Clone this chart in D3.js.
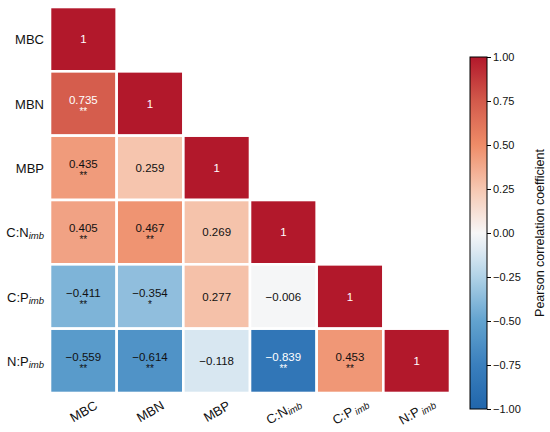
<!DOCTYPE html>
<html><head><meta charset="utf-8">
<script src="https://cdn.jsdelivr.net/npm/d3@7"></script>
<style>body{margin:0;background:#fff}svg{display:block;font-family:"Liberation Sans",Arial,sans-serif}</style>
</head><body><svg id="c" width="550" height="432"></svg>
<script>
const labelBase = ["MBC","MBN","MBP","C:N","C:P","N:P"];
const labelSub  = ["","","","imb","imb","imb"];
const values = [
  [1],
  [0.735, 1],
  [0.435, 0.259, 1],
  [0.405, 0.467, 0.269, 1],
  [-0.411, -0.354, 0.277, -0.006, 1],
  [-0.559, -0.614, -0.118, -0.839, 0.453, 1]
];
const stars = [
  [""],
  ["**", ""],
  ["**", "", ""],
  ["**", "**", "", ""],
  ["**", "*", "", "", ""],
  ["**", "**", "", "**", "**", ""]
];
const cbTicks = [1, 0.75, 0.5, 0.25, 0, -0.25, -0.5, -0.75, -1];
const cmapStops = [1, 0.75, 0.5, 0.25, 0, -0.125, -0.25, -0.5, -0.75, -1];
const cmapColors = ["#b2182b","#d35a4b","#ee8c68","#f6c7b1","#f7f7f7","#d6e6f1","#b0d2e7","#62a3cf","#3a7fbd","#2166ac"];
const cbTitle = "Pearson correlation coefficient";

const svg = d3.select("#c");
const color = d3.scaleLinear().domain(cmapStops).range(cmapColors).interpolate(d3.interpolateRgb);
const idx = d3.range(labelBase.length);
const x = d3.scaleBand().domain(idx).range([50, 450]);
const y = d3.scaleBand().domain(idx).range([7, 393]);

const cells = [];
values.forEach((row, i) => row.forEach((v, j) => cells.push({i, j, v, s: stars[i][j]})));

const fmt = v => v === 1 ? "1" : d3.format(".3f")(v);
const g = svg.append("g");
const cg = g.selectAll("g.cell").data(cells).join("g").attr("class","cell");
cg.append("rect")
  .attr("x", d => x(d.j)).attr("y", d => y(d.i))
  .attr("width", x.bandwidth()).attr("height", y.bandwidth())
  .attr("fill", d => color(d.v)).attr("stroke", "#fff").attr("stroke-width", 2.6);
cg.append("text")
  .attr("x", d => x(d.j) + x.bandwidth()/2)
  .attr("y", d => y(d.i) + y.bandwidth()/2 + (d.s ? -4 : 0))
  .attr("text-anchor","middle").attr("dominant-baseline","central")
  .attr("font-size", 11.5)
  .attr("fill", d => Math.abs(d.v) >= 0.7 ? "#fff" : "#111")
  .text(d => fmt(d.v));
cg.filter(d => d.s).append("text")
  .attr("x", d => x(d.j) + x.bandwidth()/2)
  .attr("y", d => y(d.i) + y.bandwidth()/2 + 11)
  .attr("text-anchor","middle")
  .attr("font-size", 10)
  .attr("fill", d => Math.abs(d.v) >= 0.7 ? "#fff" : "#111")
  .text(d => d.s);

// row labels
const rl = svg.append("g").selectAll("text").data(idx).join("text")
  .attr("x", 44).attr("y", i => y(i) + y.bandwidth()/2)
  .attr("text-anchor","end").attr("dominant-baseline","central")
  .attr("font-size", 13).attr("fill","#111");
rl.append("tspan").text(i => labelBase[i]);
rl.filter(i => labelSub[i]).append("tspan").attr("font-size", 9.5).attr("font-style","italic")
  .attr("dy", 3).text(i => labelSub[i]);

// column labels
const cl = svg.append("g").selectAll("text").data(idx).join("text")
  .attr("transform", i => `translate(${x(i) + x.bandwidth()/2},${411}) rotate(-30)`)
  .attr("text-anchor","middle").attr("dominant-baseline","central")
  .attr("font-size", 13).attr("fill","#111");
cl.append("tspan").text(i => labelBase[i]);
cl.filter(i => labelSub[i]).append("tspan").attr("font-size", 9.5).attr("font-style","italic")
  .attr("dx", i => labelBase[i].endsWith("P") ? 2 : 0)
  .attr("dy", 3).text(i => labelSub[i]);

// colorbar
const cbX = 470, cbW = 17, cbTop = 57, cbBot = 409;
const cy = d3.scaleLinear().domain([-1, 1]).range([cbBot, cbTop]);
const defs = svg.append("defs");
const grad = defs.append("linearGradient").attr("id","cbg").attr("x1",0).attr("y1",1).attr("x2",0).attr("y2",0);
d3.range(0, 1.0001, 0.025).forEach(t => {
  const v = -1 + 2*t;
  grad.append("stop").attr("offset", t).attr("stop-color", color(v));
});
svg.append("rect").attr("x", cbX).attr("y", cbTop).attr("width", cbW).attr("height", cbBot - cbTop)
  .attr("fill","url(#cbg)").attr("stroke","#000").attr("stroke-width",1);
const ax = svg.append("g").attr("transform", `translate(${cbX + cbW},0)`)
  .call(d3.axisRight(cy).tickValues(cbTicks).tickSize(4).tickPadding(2).tickFormat(d3.format(".2f")));
ax.select(".domain").remove();
ax.selectAll("text").attr("font-size", 11).attr("fill","#111").attr("font-family","Liberation Sans, Arial, sans-serif");
ax.selectAll("line").attr("stroke","#000");
svg.append("text").attr("transform", `translate(540,${(cbTop + cbBot)/2}) rotate(-90)`)
  .attr("text-anchor","middle").attr("dominant-baseline","central")
  .attr("font-size", 12.5).attr("fill","#111").text(cbTitle);
</script></body></html>
